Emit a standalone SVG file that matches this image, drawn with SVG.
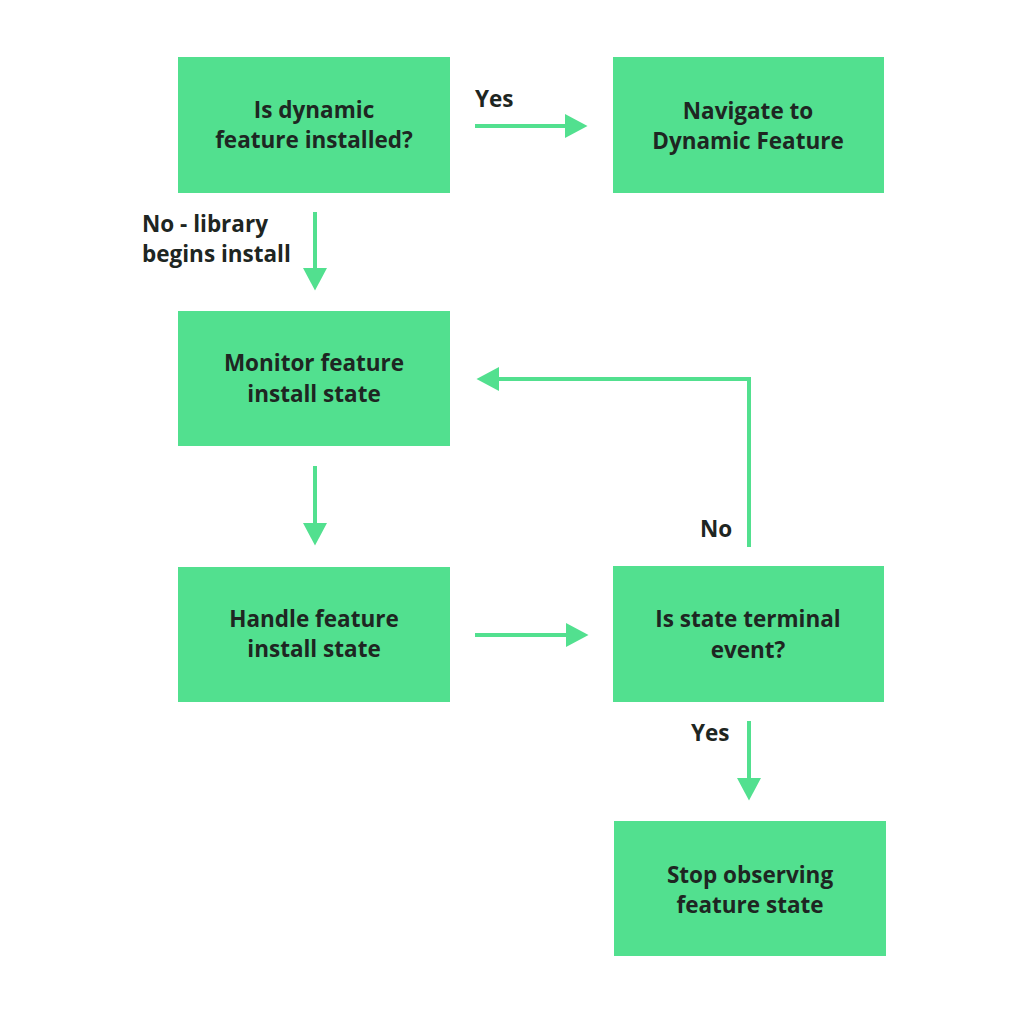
<svg xmlns="http://www.w3.org/2000/svg" width="1024" height="1020" viewBox="0 0 1024 1020">
<style>
  .box { fill: #52E08F; }
  .t { font-family: "Open Sans", "Liberation Sans", sans-serif; font-weight: 700; font-size: 22.5px; fill: #1E2622; text-anchor: middle; }
  .lbl { font-family: "Open Sans", "Liberation Sans", sans-serif; font-weight: 700; font-size: 22.5px; fill: #1E2622; }
  .c { stroke: #52E08F; stroke-width: 4; fill: none; }
</style>
<defs>
  <marker id="ah" markerUnits="userSpaceOnUse" markerWidth="23" markerHeight="24" refX="0" refY="12" orient="auto">
    <path d="M0,0 L22.5,12 L0,24 z" fill="#52E08F"/>
  </marker>
</defs>
<rect width="1024" height="1020" fill="#FFFFFF"/>

<g id="connectors">
  <line class="c" x1="475" y1="126" x2="565" y2="126" marker-end="url(#ah)"/>
  <line class="c" x1="315" y1="212" x2="315" y2="268" marker-end="url(#ah)"/>
  <line class="c" x1="315" y1="466" x2="315" y2="523" marker-end="url(#ah)"/>
  <line class="c" x1="475" y1="635" x2="566" y2="635" marker-end="url(#ah)"/>
  <path class="c" d="M749,547 V379 H499" marker-end="url(#ah)"/>
  <line class="c" x1="749" y1="721" x2="749" y2="778" marker-end="url(#ah)"/>
  <text class="lbl" x="475" y="107">Yes</text>
  <text class="lbl" x="142" y="232">No - library</text>
  <text class="lbl" x="142" y="262">begins install</text>
  <text class="lbl" x="700" y="537">No</text>
  <text class="lbl" x="691" y="741">Yes</text>
</g>

<g id="node-installed">
  <rect class="box" x="178" y="57" width="272" height="136"/>
  <text class="t" x="314" y="118">Is dynamic</text>
  <text class="t" x="314" y="148">feature installed?</text>
</g>
<g id="node-navigate">
  <rect class="box" x="613" y="57" width="271" height="136"/>
  <text class="t" x="748" y="119">Navigate to</text>
  <text class="t" x="748" y="149">Dynamic Feature</text>
</g>
<g id="node-monitor">
  <rect class="box" x="178" y="311" width="272" height="135"/>
  <text class="t" x="314" y="371">Monitor feature</text>
  <text class="t" x="314" y="402">install state</text>
</g>
<g id="node-handle">
  <rect class="box" x="178" y="567" width="272" height="135"/>
  <text class="t" x="314" y="627">Handle feature</text>
  <text class="t" x="314" y="657">install state</text>
</g>
<g id="node-terminal">
  <rect class="box" x="613" y="566" width="271" height="136"/>
  <text class="t" x="748" y="627">Is state terminal</text>
  <text class="t" x="748" y="658">event?</text>
</g>
<g id="node-stop">
  <rect class="box" x="614" y="821" width="272" height="135"/>
  <text class="t" x="750" y="883">Stop observing</text>
  <text class="t" x="750" y="913">feature state</text>
</g>
</svg>
